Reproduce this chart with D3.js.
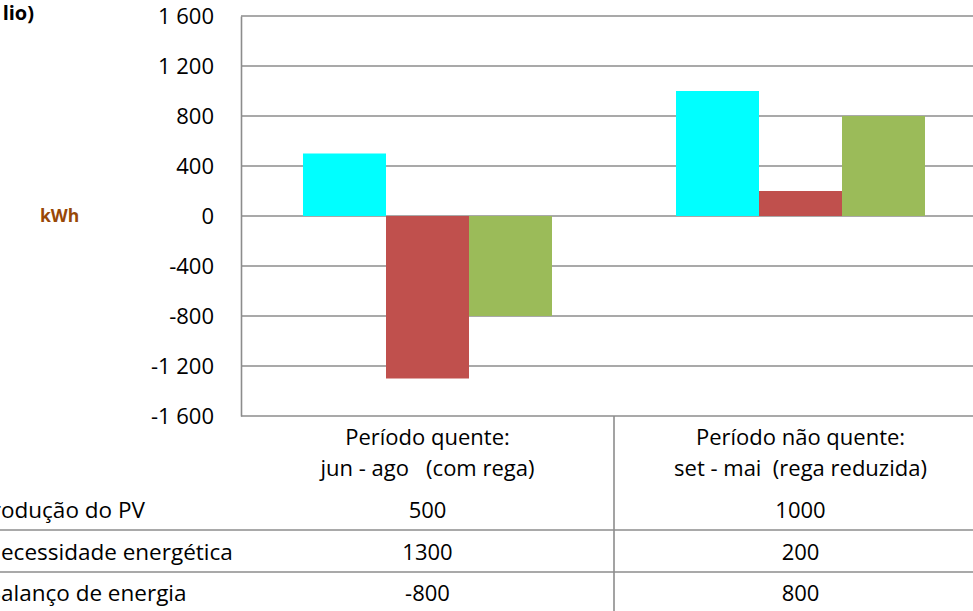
<!DOCTYPE html>
<html>
<head>
<meta charset="utf-8">
<script src="https://cdn.jsdelivr.net/npm/d3@7"></script>
<style>
  html, body { margin: 0; padding: 0; background: #fff; overflow: hidden; }
  svg { display: block; font-family: "Open Sans", "Noto Sans", sans-serif; }
</style>
</head>
<body>
<svg id="chart" width="973" height="611"></svg>
<script>
// Periods (columns of the data table)
const categories = [
  ["Período quente:", "jun - ago   (com rega)"],
  ["Período não quente:", "set - mai  (rega reduzida)"]
];
// Series names (rows of the data table)
const seriesNames = ["Produção do PV", "Necessidade energética", "Balanço de energia"];
const seriesColors = ["#00FFFF", "#C0504D", "#9BBB59"];
// Signed values as plotted, kWh
const producao = [500, 1000];
const necessidade = [-1300, 200];
const balanco = [-800, 800];
// Values as printed in the table
const tableValues = [[500, 1000], [1300, 200], [-800, 800]];
const yTicks = [-1600, -1200, -800, -400, 0, 400, 800, 1200, 1600];

const series = [producao, necessidade, balanco];

const svg = d3.select("#chart");
const plotLeft = 241, plotRight = 987, plotTop = 16, plotBottom = 416;
const gridColor = "#8C8C8C";
const fontSize = 22;
const labelSize = 22.5;

const y = d3.scaleLinear().domain([-1600, 1600]).range([plotBottom, plotTop]);
const x = d3.scaleBand().domain(d3.range(categories.length)).range([plotLeft, plotRight]);
const xs = d3.scaleBand().domain(d3.range(series.length))
  .range([62, x.bandwidth() - 62]);

const pt = d3.formatLocale({ decimal: ",", thousands: "\u00a0", grouping: [3], currency: ["", ""], minus: "-" });
const fmt = pt.format(",");

// Horizontal gridlines
svg.append("g").selectAll("line").data(yTicks).join("line")
  .attr("x1", plotLeft).attr("x2", plotRight)
  .attr("y1", d => y(d)).attr("y2", d => y(d))
  .attr("stroke", gridColor).attr("stroke-width", 1.6);

// Value axis
const yAxis = d3.axisLeft(y).tickValues(yTicks).tickFormat(fmt).tickSize(0).tickPadding(27);
const ga = svg.append("g").attr("transform", `translate(${plotLeft},0)`).call(yAxis);
ga.select(".domain").attr("stroke", gridColor).attr("stroke-width", 1.6);
ga.selectAll("text").attr("font-size", fontSize).attr("fill", "#000")
  .attr("font-family", "'Open Sans', 'Noto Sans', sans-serif");

// Bars
series.forEach((vals, si) => {
  svg.append("g").selectAll("rect").data(vals).join("rect")
    .attr("x", (d, i) => x(i) + xs(si))
    .attr("width", xs.bandwidth())
    .attr("y", d => y(Math.max(0, d)))
    .attr("height", d => Math.abs(y(d) - y(0)))
    .attr("fill", seriesColors[si]);
});

// Axis title
svg.append("text").attr("x", 40).attr("y", 222)
  .attr("font-size", 17.5).attr("font-weight", "bold").attr("fill", "#984807")
  .text("kWh");

// Chart title (fragment visible at top left)
svg.append("text").attr("x", 34).attr("y", 20).attr("text-anchor", "end")
  .attr("font-size", 20).attr("font-weight", "bold").attr("fill", "#000")
  .text("lio)");

// Data table
const table = svg.append("g");
const rowY = [518, 560, 601];
const lineY = [530, 572, 613];
// Column separator
table.append("line").attr("x1", x(1)).attr("x2", x(1))
  .attr("y1", plotBottom).attr("y2", 611)
  .attr("stroke", gridColor).attr("stroke-width", 1.6);
// Row separators
table.selectAll("line.row").data(lineY).join("line").attr("class", "row")
  .attr("x1", 0).attr("x2", 973)
  .attr("y1", d => d).attr("y2", d => d)
  .attr("stroke", gridColor).attr("stroke-width", 1.6);
// Column headers
categories.forEach((lines, i) => {
  lines.forEach((t, k) => {
    table.append("text")
      .attr("x", x(i) + x.bandwidth() / 2)
      .attr("y", 445 + k * 31)
      .attr("text-anchor", "middle").attr("font-size", fontSize)
      .attr("xml:space", "preserve")
      .style("white-space", "pre")
      .text(t);
  });
});
// Row labels and values
seriesNames.forEach((name, r) => {
  table.append("text").attr("x", 1).attr("y", rowY[r])
    .attr("font-size", labelSize).attr("text-anchor", "start")
    .attr("class", "rowlabel").text(name);
  tableValues[r].forEach((v, i) => {
    table.append("text")
      .attr("x", x(i) + x.bandwidth() / 2)
      .attr("y", rowY[r])
      .attr("text-anchor", "middle").attr("font-size", fontSize)
      .text(v);
  });
});
// The label column starts left of the page edge, so each name runs in from x = 0
const cuts = ["Pr", "N", "B"];
table.selectAll("text.rowlabel").each(function (d, i) {
  const probe = svg.append("text").attr("font-size", labelSize).text(cuts[i]);
  const w = probe.node().getComputedTextLength();
  probe.remove();
  d3.select(this).attr("x", -w + 1);
});
</script>
</body>
</html>
